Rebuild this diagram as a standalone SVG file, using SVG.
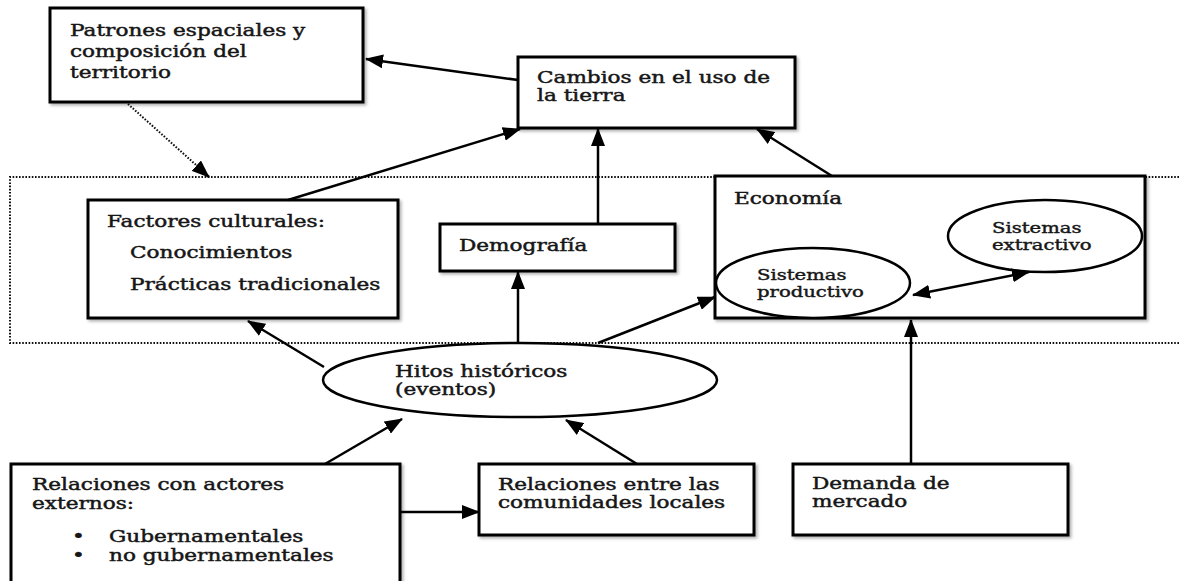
<svg xmlns="http://www.w3.org/2000/svg" width="1179" height="581" viewBox="0 0 1179 581">
<defs>
<style>
.box{fill:#fff;stroke:#000;stroke-width:3;filter:url(#sh)}
.ell{fill:#fff;stroke:#000;stroke-width:2.5}
.t{font-family:"DejaVu Serif","Liberation Serif",serif;font-size:16px;fill:#161616;stroke:#161616;stroke-width:0.45}
.s{font-family:"DejaVu Serif","Liberation Serif",serif;font-size:14px;fill:#161616;stroke:#161616;stroke-width:0.4}
.c{fill:none;stroke:#000;stroke-width:2.5}
.dot{fill:none;stroke:#111;stroke-width:2;stroke-dasharray:1.6 1.6}
</style>
<filter id="sh" x="-10%" y="-10%" width="120%" height="130%">
<feDropShadow dx="2" dy="2" stdDeviation="1.5" flood-color="#000" flood-opacity="0.3"/>
</filter>
<marker id="ah" markerWidth="18" markerHeight="14" refX="17" refY="7" orient="auto-start-reverse" markerUnits="userSpaceOnUse">
<path d="M0,0 L18,7 L0,14 z" fill="#000"/>
</marker>
</defs>

<g id="frontera">
<path class="dot" d="M1179,177 H10 V343 H1179"/>
</g>

<g id="patrones">
<rect class="box" x="50" y="8" width="313" height="94"/>
<text class="t" transform="translate(70,36) scale(1.35,1)"><tspan x="0" y="0">Patrones espaciales y</tspan><tspan x="0" y="21">composición del</tspan><tspan x="0" y="42">territorio</tspan></text>
</g>

<g id="cambios">
<rect class="box" x="518" y="57" width="277" height="71"/>
<text class="t" transform="translate(537,83) scale(1.35,1)"><tspan x="0" y="0">Cambios en el uso de</tspan><tspan x="0" y="18">la tierra</tspan></text>
</g>

<g id="factores">
<rect class="box" x="88" y="200" width="310" height="118"/>
<text class="t" transform="translate(107,227) scale(1.35,1)">Factores culturales:</text>
<text class="t" transform="translate(130,258) scale(1.35,1)">Conocimientos</text>
<text class="t" transform="translate(130,290) scale(1.35,1)">Prácticas tradicionales</text>
</g>

<g id="demografia">
<rect class="box" x="440" y="224" width="235" height="47"/>
<text class="t" transform="translate(459,251) scale(1.35,1)">Demografía</text>
</g>

<g id="economia">
<rect class="box" x="715" y="176" width="430" height="142"/>
<text class="t" transform="translate(734,204) scale(1.35,1)">Economía</text>
</g>

<g id="extractivo">
<ellipse class="ell" cx="1045" cy="236" rx="97" ry="36"/>
<text class="s" transform="translate(992,233) scale(1.4,1)"><tspan x="0" y="0">Sistemas</tspan><tspan x="0" y="17">extractivo</tspan></text>
</g>

<g id="productivo">
<ellipse class="ell" cx="813" cy="283" rx="97" ry="35"/>
<text class="s" transform="translate(757,280) scale(1.4,1)"><tspan x="0" y="0">Sistemas</tspan><tspan x="0" y="17">productivo</tspan></text>
</g>

<g id="hitos">
<ellipse class="ell" cx="520" cy="380" rx="197" ry="37"/>
<text class="t" transform="translate(395,377) scale(1.35,1)"><tspan x="0" y="0">Hitos históricos</tspan><tspan x="0" y="18">(eventos)</tspan></text>
</g>

<g id="actores">
<rect class="box" x="11" y="464" width="389" height="140"/>
<text class="t" transform="translate(32,490) scale(1.35,1)"><tspan x="0" y="0">Relaciones con actores</tspan><tspan x="0" y="19">externos:</tspan></text>
<text class="t" transform="translate(72,542) scale(1.35,1)"><tspan x="0" y="0">•</tspan><tspan x="0" y="19">•</tspan></text>
<text class="t" transform="translate(109,542) scale(1.35,1)"><tspan x="0" y="0">Gubernamentales</tspan><tspan x="0" y="19">no gubernamentales</tspan></text>
</g>

<g id="comunidades">
<rect class="box" x="479" y="464" width="275" height="71"/>
<text class="t" transform="translate(498,490) scale(1.35,1)"><tspan x="0" y="0">Relaciones entre las</tspan><tspan x="0" y="18">comunidades locales</tspan></text>
</g>

<g id="demanda">
<rect class="box" x="793" y="464" width="275" height="71"/>
<text class="t" transform="translate(812,489) scale(1.35,1)"><tspan x="0" y="0">Demanda de</tspan><tspan x="0" y="18">mercado</tspan></text>
</g>

<g id="connectors">
<line class="c" x1="518" y1="80" x2="366" y2="59" marker-end="url(#ah)"/>
<line class="dot" x1="128" y1="104" x2="205" y2="173"/>
<line class="c" x1="200" y1="169" x2="209" y2="177" stroke-width="0.1" marker-end="url(#ah)"/>
<line class="c" x1="288" y1="200" x2="520" y2="129" marker-end="url(#ah)"/>
<line class="c" x1="598" y1="224" x2="598" y2="129" marker-end="url(#ah)"/>
<line class="c" x1="832" y1="176" x2="757" y2="129" marker-end="url(#ah)"/>
<line class="c" x1="913" y1="295" x2="1029" y2="272" marker-start="url(#ah)" marker-end="url(#ah)"/>
<line class="c" x1="324" y1="367" x2="248" y2="321" marker-end="url(#ah)"/>
<line class="c" x1="518" y1="343" x2="518" y2="272" marker-end="url(#ah)"/>
<line class="c" x1="598" y1="343" x2="715" y2="297" marker-end="url(#ah)"/>
<line class="c" x1="911" y1="464" x2="911" y2="320" marker-end="url(#ah)"/>
<line class="c" x1="325" y1="464" x2="402" y2="419" marker-end="url(#ah)"/>
<line class="c" x1="637" y1="464" x2="566" y2="420" marker-end="url(#ah)"/>
<line class="c" x1="400" y1="512" x2="479" y2="512" marker-end="url(#ah)"/>
</g>
</svg>
